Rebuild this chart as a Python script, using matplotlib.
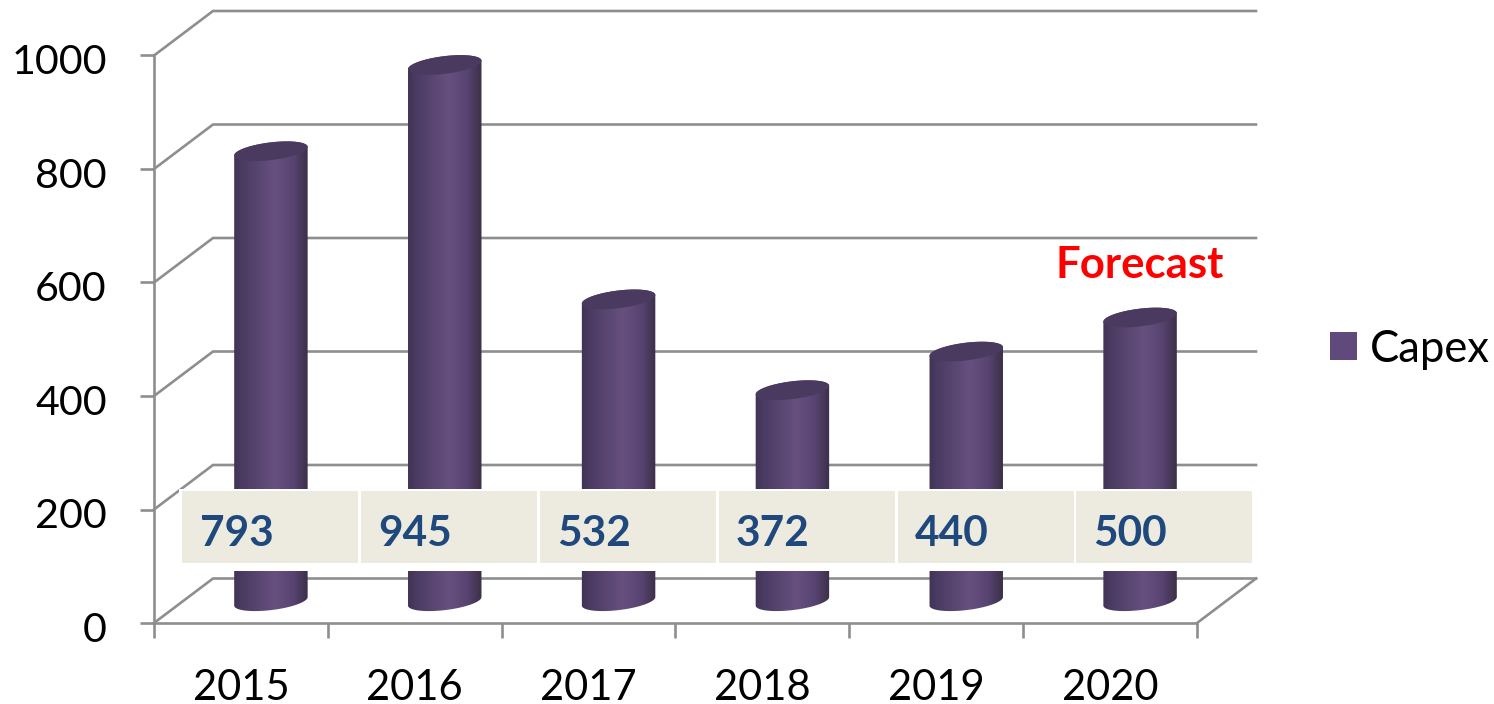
import numpy as np
import matplotlib
matplotlib.use("Agg")
import matplotlib.pyplot as plt
from matplotlib.colors import LinearSegmentedColormap
from matplotlib.patches import Patch, Polygon, Rectangle
from matplotlib.transforms import ScaledTranslation

years = ["2015", "2016", "2017", "2018", "2019", "2020"]
capex = [793, 945, 532, 372, 440, 500]
y_ticks = [0, 200, 400, 600, 800, 1000]
series_name = "Capex"
note = "Forecast"

W, H = 1494, 704
plt.rcParams["font.family"] = ["Lato", "DejaVu Sans"]
fig = plt.figure(figsize=(W / 100, H / 100), dpi=100)
L, R, B, T = 154, 1197, 623, 55.5
ax = fig.add_axes([L / W, 1 - B / H, (R - L) / W, (B - T) / H])
ax.patch.set_visible(False)
n = len(years)
sx = n / (R - L)      # categories per pixel
sy = 1000 / (B - T)   # value units per pixel
depth_x, depth_y = 59 * sx, 44.5 * sy
GRID = "#8e8e8e"
LW = 1.9

# walls and floor
for v in y_ticks:
    ax.plot([-0.5, -0.5 + depth_x, n - 0.5 + depth_x], [v, v + depth_y, v + depth_y],
            color=GRID, lw=LW, clip_on=False, zorder=1, solid_joinstyle="miter")
ax.plot([n - 0.5, n - 0.5 + depth_x], [0, depth_y], color=GRID, lw=LW, clip_on=False, zorder=1)

# cylinders
cmap = LinearSegmentedColormap.from_list("cyl", [
    (0.0, "#3f3253"), (0.12, "#4a3b62"), (0.55, "#67507f"),
    (0.8, "#574371"), (0.95, "#41334f"), (1.0, "#3a2e4a")])
a, b, th = 37, 8.8, np.radians(7)


def ell(cx, cy, t):
    px = a * np.cos(t) * np.cos(th) - b * np.sin(t) * np.sin(th)
    py = a * np.cos(t) * np.sin(th) + b * np.sin(t) * np.cos(th)
    return cx + px * sx, cy + py * sy


grad = np.linspace(0, 1, 256).reshape(1, -1)
for i, v in enumerate(capex):
    cx, base = i + depth_x / 2 + 0.5 * sx, depth_y / 2 - 0.5 * sy
    top = base + v
    xb, yb = ell(cx, base, np.linspace(np.pi, 2 * np.pi, 60))
    xt, yt = ell(cx, top, np.linspace(0, np.pi, 60))
    body = Polygon(np.r_[np.c_[xb, yb], np.c_[xt, yt]], closed=True, transform=ax.transData,
                   fc="none", ec="none")
    ax.add_patch(body)
    halfw = (a + 1) * sx
    img = ax.imshow(grad, cmap=cmap, extent=[cx - halfw, cx + halfw, base - 20 * sy, top + 20 * sy],
                    aspect="auto", interpolation="bilinear", zorder=2)
    img.set_clip_path(body)
    xe, ye = ell(cx, top, np.linspace(0, 2 * np.pi, 120))
    ax.add_patch(Polygon(np.c_[xe, ye], closed=True, fc="#4b3a5f", ec="none", zorder=3, clip_on=False))

# data table band
x0 = -0.5 + 28 * sx
step = 178.9 * sx
ax.add_patch(Rectangle((-0.5 + 25 * sx, (B - 571) * sy), 1075 * sx, 82.5 * sy, fc="white", ec="none",
                       zorder=4, clip_on=False))
for i, v in enumerate(capex):
    ax.add_patch(Rectangle((x0 + i * step, (B - 562.7) * sy), 176 * sx, 71.7 * sy, fc="#edebe0",
                           ec="none", zorder=5, clip_on=False))
    ax.text(x0 + i * 178.6 * sx + 18 * sx, (B - 531) * sy, str(v), fontsize=30.5, fontweight="bold",
            color="#1f497d", ha="left", va="center_baseline", zorder=6)

ax.text(5 + depth_x / 2, (B - 262) * sy, note, color="#ff0000", fontsize=31.5, fontweight="bold",
        ha="center", va="center_baseline", zorder=6)

# axes
ax.set_xlim(-0.5, n - 0.5)
ax.set_ylim(0, 1000)
for s in ("top", "right"):
    ax.spines[s].set_visible(False)
for s in ("left", "bottom"):
    ax.spines[s].set_color(GRID)
    ax.spines[s].set_linewidth(LW)
ax.spines["left"].set_zorder(1.5)
ax.set_yticks(y_ticks)
ax.set_yticklabels([str(v) for v in y_ticks], fontsize=29.7)
ax.tick_params(axis="y", length=10, width=LW, color=GRID, pad=24)
down = ScaledTranslation(0, -4 / 100, fig.dpi_scale_trans)
for lab in ax.get_yticklabels():
    lab.set_transform(lab.get_transform() + down)
ax.set_xticks(np.arange(n + 1) - 0.5)
ax.set_xticklabels([""] * (n + 1))
ax.set_xticks(np.arange(n), minor=True)
ax.set_xticklabels(years, minor=True, fontsize=30)
ax.tick_params(axis="x", which="major", length=11, width=LW, color=GRID)
ax.tick_params(axis="x", which="minor", length=0, pad=33)

fig.legend(handles=[Patch(fc="#604a7b", ec="none", label=series_name)], loc="center left",
           bbox_to_anchor=(1330 / W, 1 - 349 / H), frameon=False, fontsize=31.4,
           handlelength=0.623, handleheight=0.623, handletextpad=0.28, borderpad=0, borderaxespad=0)

fig.savefig("out.png", dpi=100, facecolor="white")
